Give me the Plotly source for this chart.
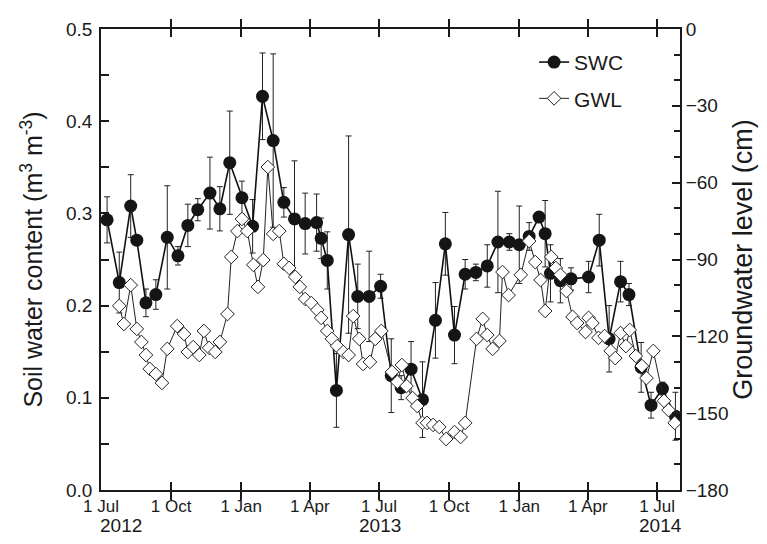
import plotly.graph_objects as go

# ---------------- data ----------------
swc_dates = [
    "2012-07-09", "2012-07-25", "2012-08-09", "2012-08-17", "2012-08-29", "2012-09-11",
    "2012-09-26", "2012-10-10", "2012-10-23", "2012-11-05", "2012-11-21", "2012-12-04",
    "2012-12-17", "2013-01-02", "2013-01-16", "2013-01-29", "2013-02-12", "2013-02-26",
    "2013-03-12", "2013-03-26", "2013-04-10", "2013-04-16", "2013-04-24", "2013-05-06",
    "2013-05-22", "2013-06-03", "2013-06-18", "2013-07-03", "2013-07-17", "2013-07-30",
    "2013-08-12", "2013-08-27", "2013-09-13", "2013-09-26", "2013-10-08", "2013-10-22",
    "2013-11-05", "2013-11-20", "2013-12-04", "2013-12-19", "2014-01-01", "2014-01-14",
    "2014-01-27", "2014-02-04", "2014-02-11", "2014-02-24", "2014-03-10", "2014-04-02",
    "2014-04-16", "2014-04-29", "2014-05-14", "2014-05-25", "2014-06-10", "2014-06-23",
    "2014-07-08", "2014-07-25",
]
swc_values = [
    0.293, 0.225, 0.308, 0.271, 0.203, 0.212, 0.274, 0.254, 0.287, 0.304, 0.322, 0.305,
    0.355, 0.317, 0.286, 0.427, 0.379, 0.312, 0.294, 0.289, 0.290, 0.273, 0.249, 0.108,
    0.277, 0.210, 0.210, 0.221, 0.124, 0.111, 0.131, 0.098, 0.184, 0.267, 0.168, 0.234,
    0.236, 0.243, 0.269, 0.269, 0.266, 0.275, 0.296, 0.278, 0.235, 0.227, 0.229, 0.231,
    0.271, 0.164, 0.226, 0.212, 0.133, 0.092, 0.110, 0.080,
]
swc_errors = [
    0.025, 0.033, 0.034, 0.005, 0.015, 0.016, 0.056, 0.010, 0.023, 0.012, 0.039, 0.024,
    0.056, 0.018, 0.029, 0.047, 0.094, 0.016, 0.063, 0.033, 0.031, 0.022, 0.031, 0.040,
    0.107, 0.035, 0.049, 0.013, 0.040, 0.013, 0.030, 0.041, 0.041, 0.034, 0.031, 0.016,
    0.009, 0.023, 0.055, 0.009, 0.042, 0.015, 0.005, 0.036, 0.031, 0.024, 0.012, 0.017,
    0.028, 0.036, 0.022, 0.012, 0.027, 0.014, 0.007, 0.026,
]

gwl_dates = [
    "2012-07-25", "2012-07-31", "2012-08-09", "2012-08-17", "2012-08-23", "2012-08-29",
    "2012-09-03", "2012-09-11", "2012-09-19", "2012-09-26", "2012-10-09", "2012-10-18",
    "2012-10-23", "2012-10-30", "2012-11-07", "2012-11-13", "2012-11-20", "2012-11-28",
    "2012-12-04", "2012-12-14", "2012-12-19", "2012-12-27", "2013-01-02", "2013-01-09",
    "2013-01-17", "2013-01-23", "2013-01-30", "2013-02-05", "2013-02-12", "2013-02-20",
    "2013-02-26", "2013-03-05", "2013-03-13", "2013-03-19", "2013-03-26", "2013-04-03",
    "2013-04-11", "2013-04-16", "2013-04-24", "2013-04-30", "2013-05-07", "2013-05-15",
    "2013-05-22", "2013-05-28", "2013-06-05", "2013-06-10", "2013-06-19", "2013-06-26",
    "2013-07-04", "2013-07-18", "2013-07-25", "2013-07-31", "2013-08-06", "2013-08-14",
    "2013-08-20", "2013-08-27", "2013-09-02", "2013-09-10", "2013-09-18", "2013-09-27",
    "2013-10-08", "2013-10-16", "2013-10-22", "2013-11-06", "2013-11-14", "2013-11-20",
    "2013-11-27", "2013-12-06", "2013-12-10", "2013-12-18", "2014-01-03", "2014-01-14",
    "2014-01-22", "2014-01-29", "2014-02-04", "2014-02-12", "2014-02-18", "2014-02-24",
    "2014-03-04", "2014-03-12", "2014-03-18", "2014-03-29", "2014-04-02", "2014-04-07",
    "2014-04-15", "2014-04-23", "2014-05-01", "2014-05-07", "2014-05-14", "2014-05-21",
    "2014-05-26", "2014-06-03", "2014-06-11", "2014-06-17", "2014-06-26", "2014-07-10",
    "2014-07-16", "2014-07-24",
]
gwl_values = [
    -108.1, -115.2, -100.0, -117.1, -122.2, -127.3, -132.7, -134.7, -138.2, -124.9,
    -116.0, -119.1, -126.1, -124.2, -127.3, -117.9, -124.5, -126.1, -122.2, -111.3,
    -89.0, -78.9, -74.2, -78.9, -92.1, -100.7, -90.2, -53.9, -80.0, -78.9,
    -91.7, -93.3, -96.8, -100.7, -105.4, -107.0, -109.7, -112.8, -117.9, -121.0,
    -123.8, -126.1, -127.3, -112.1, -121.0, -130.8, -130.0, -121.0, -117.9, -133.9,
    -137.8, -131.2, -139.4, -144.1, -147.2, -153.8, -153.8, -154.6, -155.4, -160.1,
    -157.4, -159.3, -153.8, -121.0, -113.2, -119.5, -124.9, -121.8, -94.9, -103.9,
    -96.0, -82.8, -91.0, -98.0, -110.1, -89.0, -93.3, -96.0, -102.3, -112.4,
    -114.8, -118.3, -112.8, -114.8, -120.6, -119.9, -125.7, -128.5, -118.7, -123.8,
    -117.5, -127.7, -131.6, -136.3, -125.7, -145.2, -148.8, -153.8,
]

x_tick_vals = ["2012-07-01", "2012-10-01", "2013-01-01", "2013-04-01", "2013-07-01",
               "2013-10-01", "2014-01-01", "2014-04-01", "2014-07-01"]
x_tick_text = ["1 Jul", "1 Oct", "1 Jan", "1 Apr", "1 Jul", "1 Oct", "1 Jan", "1 Apr", "1 Jul"]
year_labels = ["2012", "2013", "2014"]
year_positions = [0.035, 0.482, 0.966]

# ---------------- figure ----------------
FONT = "Liberation Sans, Arial, sans-serif"
AX = "#1a1a1a"

fig = go.Figure()
fig.add_trace(go.Scatter(
    x=swc_dates, y=swc_values, name="SWC", mode="lines+markers",
    legendgroup="swc",
    line=dict(color="#111111", width=1.6),
    marker=dict(symbol="circle", size=13, color="#151515", line=dict(color="#151515", width=0)),
    error_y=dict(type="data", array=swc_errors, visible=True, color="#222222",
                 thickness=1, width=3),
    yaxis="y",
))
fig.add_trace(go.Scatter(
    x=gwl_dates, y=gwl_values, name="GWL", mode="lines+markers",
    legendgroup="gwl",
    line=dict(color="#222222", width=1),
    marker=dict(symbol="diamond", size=10.5, color="white", line=dict(color="#222222", width=1)),
    yaxis="y2",
))

fig.update_layout(
    width=767, height=544,
    margin=dict(l=93, r=95, t=21, b=62),
    paper_bgcolor="white", plot_bgcolor="white",
    font=dict(family=FONT, color="#1a1a1a", size=18),
    showlegend=True,
    legend=dict(x=0.748, y=0.972, xanchor="left", yanchor="top",
                bgcolor="rgba(0,0,0,0)", font=dict(family=FONT, size=21),
                traceorder="grouped", tracegroupgap=6),
    xaxis=dict(
        type="date", range=["2012-07-01", "2014-07-31"],
        tickvals=x_tick_vals, ticktext=x_tick_text,
        tickfont=dict(family=FONT, size=17),
        ticks="inside", ticklen=8, tickwidth=1.5, tickcolor=AX,
        ticklabelstandoff=0,
        showline=True, linecolor=AX, linewidth=1.8, mirror="allticks",
        showgrid=False, zeroline=False,
    ),
    yaxis=dict(
        range=[0, 0.5], tickvals=[0, 0.1, 0.2, 0.3, 0.4, 0.5], tickformat=".1f",
        tickfont=dict(family=FONT, size=19),
        ticks="inside", ticklen=8, tickwidth=1.5, tickcolor=AX,
        ticklabelstandoff=3,
        minor=dict(dtick=0.05, ticks="inside", ticklen=8, tickwidth=1.5, tickcolor=AX),
        showline=True, linecolor=AX, linewidth=1.8,
        showgrid=False, zeroline=False,
        title=dict(text="Soil water content (m<sup>3</sup> m<sup>-3</sup>)",
                   font=dict(family=FONT, size=25), standoff=16),
    ),
    yaxis2=dict(
        overlaying="y", side="right", range=[-180, 0], dtick=30,
        tickfont=dict(family=FONT, size=19),
        ticks="inside", ticklen=8, tickwidth=1.5, tickcolor=AX,
        minor=dict(dtick=10, ticks="inside", ticklen=6, tickwidth=1.5, tickcolor=AX),
        showline=True, linecolor=AX, linewidth=1.8,
        showgrid=False, zeroline=False,
        title=dict(text="Groundwater level (cm)", font=dict(family=FONT, size=27), standoff=6),
    ),
)

for label, xp in zip(year_labels, year_positions):
    fig.add_annotation(text=label, x=xp, y=-0.078, xref="paper", yref="paper",
                       showarrow=False, xanchor="center", yanchor="middle",
                       font=dict(family=FONT, size=19, color="#1a1a1a"))

fig.write_html("out.html")
